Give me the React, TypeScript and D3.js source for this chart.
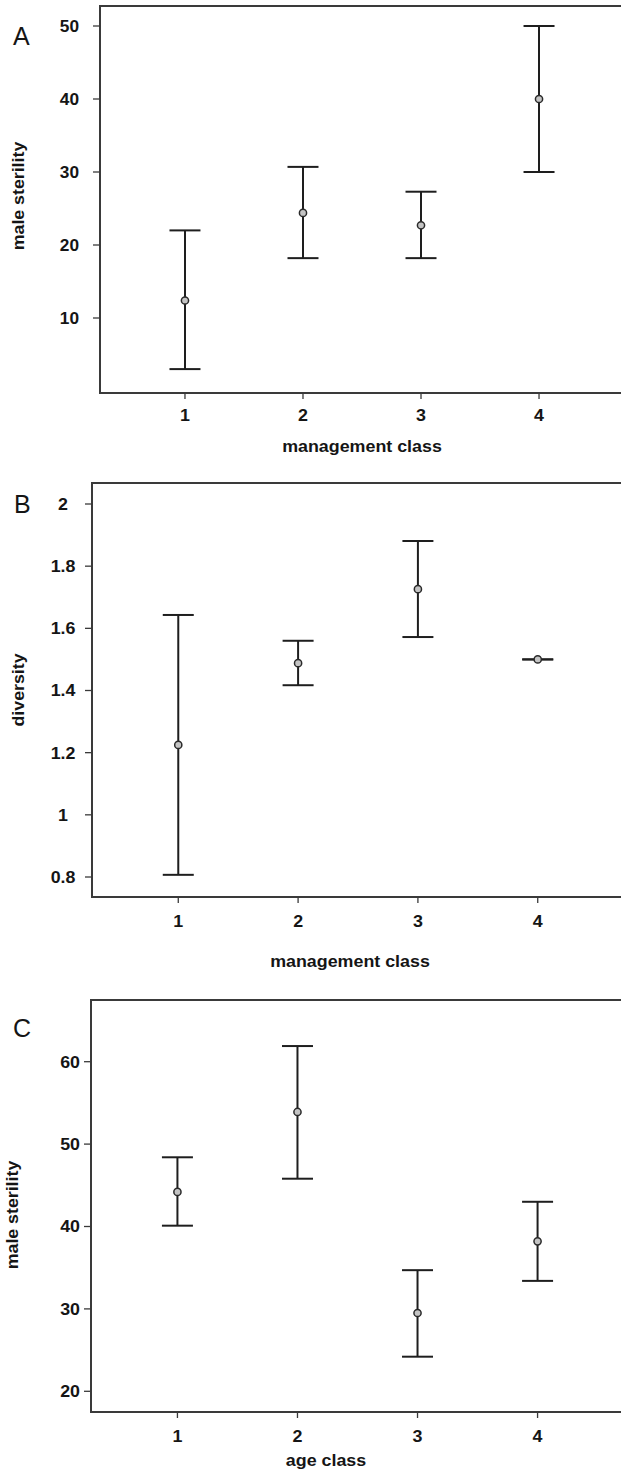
import React from "react";
import * as d3 from "d3";

// ---------- data ----------
const categories = ["1", "2", "3", "4"];

// Panel A: male sterility by management class
const aMean = [12.4, 24.4, 22.7, 40.0];
const aLow = [3.0, 18.2, 18.2, 30.0];
const aHigh = [22.0, 30.7, 27.3, 50.0];
const aTicks = [10, 20, 30, 40, 50];
const aTickLabels = ["10", "20", "30", "40", "50"];

// Panel B: diversity by management class
const bMean = [1.225, 1.488, 1.726, 1.5];
const bLow = [0.807, 1.417, 1.572, 1.5];
const bHigh = [1.643, 1.56, 1.881, 1.5];
const bTicks = [0.8, 1, 1.2, 1.4, 1.6, 1.8, 2];
const bTickLabels = ["0.8", "1", "1.2", "1.4", "1.6", "1.8", "2"];

// Panel C: male sterility by age class
const cMean = [44.2, 53.9, 29.5, 38.2];
const cLow = [40.1, 45.8, 24.2, 33.4];
const cHigh = [48.4, 61.9, 34.7, 43.0];
const cTicks = [20, 30, 40, 50, 60];
const cTickLabels = ["20", "30", "40", "50", "60"];

const FONT = "'Liberation Sans', Arial, Helvetica, sans-serif";

type PanelProps = {
  letter: string;
  letterX: number;
  letterY: number;
  left: number;
  right: number;
  top: number;
  bottom: number;
  yDomain: [number, number];
  yRange: [number, number];
  mean: number[];
  low: number[];
  high: number[];
  ticks: number[];
  tickLabels: string[];
  yLabelX: number;
  yLabelAnchor: "end" | "middle";
  yLabelSize: number;
  yTickLen: number;
  xLabelBaseline: number;
  xTitle: string;
  xTitleX: number;
  xTitleBaseline: number;
  yTitle: string;
  yTitleX: number;
  yTitleY: number;
};

function Txt(props: {
  x: number;
  y: number;
  sx?: number;
  size: number;
  anchor?: string;
  weight?: string;
  rotate?: boolean;
  dy?: string;
  children: React.ReactNode;
}) {
  const { x, y, sx = 1, size, anchor = "start", weight = "normal", rotate, dy, children } = props;
  return (
    <text
      transform={`translate(${x},${y})${rotate ? " rotate(-90)" : ""} scale(${sx},1)`}
      fontSize={size}
      fontFamily={FONT}
      fontWeight={weight}
      textAnchor={anchor}
      dy={dy}
      fill="#151515"
    >
      {children}
    </text>
  );
}

function Panel(p: PanelProps) {
  const x = d3.scalePoint<string>().domain(categories).range([p.left, p.right]).padding(0.72);
  const y = d3.scaleLinear().domain(p.yDomain).range(p.yRange);
  const capHalf = 15.5;
  return (
    <g>
      {/* frame: right side lies outside the picture */}
      <rect
        x={p.left}
        y={p.top}
        width={640 - p.left}
        height={p.bottom - p.top}
        fill="#ffffff"
        stroke="#3a3a3a"
        strokeWidth={2}
      />
      {/* y ticks */}
      {p.ticks.map((t, i) => (
        <g key={"yt" + i}>
          <line x1={p.left - p.yTickLen} x2={p.left} y1={y(t)} y2={y(t)} stroke="#3a3a3a" strokeWidth={1.3} />
          <Txt x={p.yLabelX} y={y(t)} dy="0.36em" size={p.yLabelSize} sx={1.08} anchor={p.yLabelAnchor} weight="bold">
            {p.tickLabels[i]}
          </Txt>
        </g>
      ))}
      {/* x ticks */}
      {categories.map((c) => (
        <g key={"xt" + c}>
          <line x1={x(c)!} x2={x(c)!} y1={p.bottom} y2={p.bottom + 6} stroke="#3a3a3a" strokeWidth={1.3} />
          <Txt x={x(c)!} y={p.xLabelBaseline} size={17} sx={1.05} anchor="middle" weight="bold">
            {c}
          </Txt>
        </g>
      ))}
      {/* error bars */}
      {categories.map((c, i) => {
        const cx = x(c)!;
        return (
          <g key={"eb" + c} stroke="#1e1e1e" strokeWidth={2} fill="none">
            <line x1={cx} x2={cx} y1={y(p.high[i])} y2={y(p.low[i])} />
            <line x1={cx - capHalf} x2={cx + capHalf} y1={y(p.high[i])} y2={y(p.high[i])} />
            <line x1={cx - capHalf} x2={cx + capHalf} y1={y(p.low[i])} y2={y(p.low[i])} />
            <circle cx={cx} cy={y(p.mean[i])} r={3.6} fill="#c4c4c4" stroke="#2a2a2a" strokeWidth={1.5} />
          </g>
        );
      })}
      {/* titles */}
      <Txt x={p.xTitleX} y={p.xTitleBaseline} size={17} sx={1.05} anchor="middle" weight="bold">
        {p.xTitle}
      </Txt>
      <Txt x={p.yTitleX} y={p.yTitleY} size={16} sx={1.11} anchor="middle" weight="bold" rotate dy="0.36em">
        {p.yTitle}
      </Txt>
      <Txt x={p.letterX} y={p.letterY} size={25} anchor="start">
        {p.letter}
      </Txt>
    </g>
  );
}

export default function App() {
  return (
    <svg
      width={621}
      height={1473}
      style={{ position: "absolute", left: 0, top: 0, background: "#ffffff" }}
    >
      <rect x={0} y={0} width={621} height={1473} fill="#ffffff" />
      <Panel
        letter="A"
        letterX={13}
        letterY={45}
        left={100}
        right={624}
        top={6}
        bottom={393}
        yDomain={[0, 50]}
        yRange={[391, 26]}
        mean={aMean}
        low={aLow}
        high={aHigh}
        ticks={aTicks}
        tickLabels={aTickLabels}
        yLabelX={79}
        yLabelAnchor="end"
        yLabelSize={16}
        yTickLen={7}
        xLabelBaseline={421}
        xTitle="management class"
        xTitleX={362}
        xTitleBaseline={452}
        yTitle="male sterility"
        yTitleX={18}
        yTitleY={196}
      />
      <Panel
        letter="B"
        letterX={14}
        letterY={513}
        left={92}
        right={624}
        top={483}
        bottom={897}
        yDomain={[0.8, 2]}
        yRange={[877, 504]}
        mean={bMean}
        low={bLow}
        high={bHigh}
        ticks={bTicks}
        tickLabels={bTickLabels}
        yLabelX={63}
        yLabelAnchor="middle"
        yLabelSize={16.5}
        yTickLen={7}
        xLabelBaseline={927}
        xTitle="management class"
        xTitleX={350}
        xTitleBaseline={967}
        yTitle="diversity"
        yTitleX={18}
        yTitleY={690}
      />
      <Panel
        letter="C"
        letterX={13}
        letterY={1037}
        left={91}
        right={624}
        top={1000}
        bottom={1412}
        yDomain={[20, 60]}
        yRange={[1391.3, 1061.7]}
        mean={cMean}
        low={cLow}
        high={cHigh}
        ticks={cTicks}
        tickLabels={cTickLabels}
        yLabelX={80}
        yLabelAnchor="end"
        yLabelSize={16.5}
        yTickLen={7}
        xLabelBaseline={1442}
        xTitle="age class"
        xTitleX={326}
        xTitleBaseline={1466}
        yTitle="male sterility"
        yTitleX={12}
        yTitleY={1215}
      />
    </svg>
  );
}
